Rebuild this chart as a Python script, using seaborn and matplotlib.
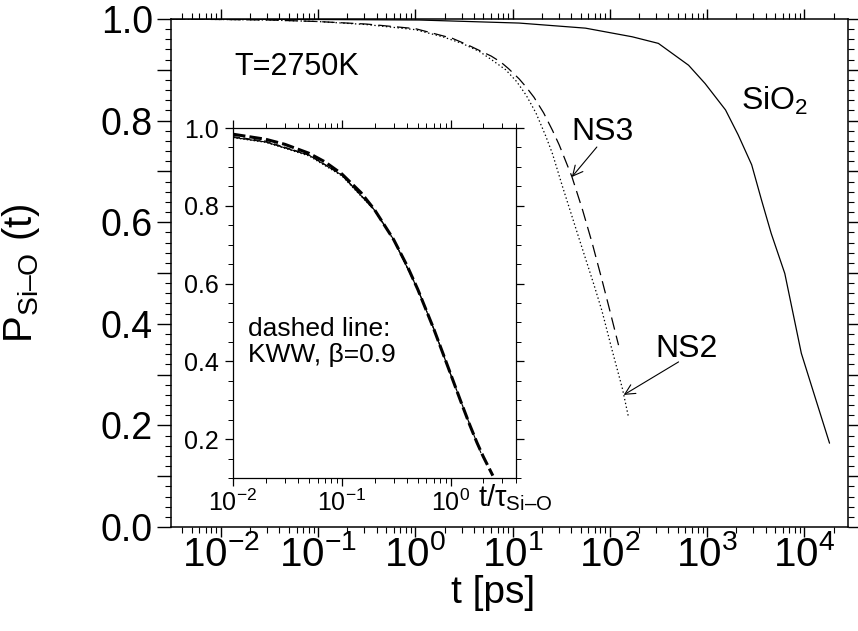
import numpy as np
import pandas as pd
import matplotlib
matplotlib.use("Agg")
import matplotlib.pyplot as plt
from matplotlib.ticker import LogLocator, NullFormatter, MultipleLocator, LogFormatterSciNotation
import seaborn as sns

# ---------------- data ----------------
# main panel: t [ps] vs P_Si-O(t)
t_sio2 = [0.00316, 0.1, 1.10, 11.7, 56.2, 170, 316, 646, 955, 1550, 2090, 2880,
          3630, 4570, 6310, 9330, 12900, 18200]
p_sio2 = [1.000, 0.999, 0.998, 0.992, 0.982, 0.965, 0.952, 0.909, 0.873, 0.821,
          0.772, 0.713, 0.644, 0.578, 0.499, 0.342, 0.256, 0.165]

t_ns3 = [0.00316, 0.01, 0.0316, 0.1, 0.316, 1.0, 2.40, 3.55, 6.03, 7.59, 9.12,
         11.7, 13.8, 16.6, 20.9, 25.7, 30.2, 40.7, 52.5, 66.1, 83.2, 97.7, 123]
p_ns3 = [1.000, 0.999, 0.998, 0.995, 0.990, 0.981, 0.962, 0.948, 0.927, 0.915,
         0.902, 0.882, 0.866, 0.846, 0.815, 0.781, 0.752, 0.690, 0.624, 0.558,
         0.486, 0.434, 0.358]

t_ns2 = [0.00316, 0.01, 0.0316, 0.1, 0.316, 1.0, 1.38, 1.91, 3.02, 4.57, 6.17,
         8.51, 11.0, 13.8, 17.4, 21.9, 25.7, 32.4, 47.9, 69.2, 83.2, 105, 135, 155]
p_ns2 = [1.000, 0.999, 0.998, 0.995, 0.989, 0.979, 0.972, 0.965, 0.952, 0.936,
         0.919, 0.900, 0.877, 0.850, 0.815, 0.770, 0.735, 0.672, 0.570, 0.475,
         0.425, 0.350, 0.272, 0.218]

# inset: scaled time t/tau vs P
x_kww = [0.01, 0.02, 0.03, 0.05, 0.07, 0.1, 0.15, 0.2, 0.3, 0.4, 0.5, 0.7, 0.85,
         1.0, 1.25, 1.5, 1.75, 2.0, 2.45]
p_kww = [0.984, 0.971, 0.958, 0.935, 0.913, 0.882, 0.834, 0.790, 0.713, 0.645,
         0.585, 0.484, 0.421, 0.368, 0.295, 0.237, 0.191, 0.155, 0.106]

x_in_sio2 = [0.01, 0.02, 0.05, 0.1, 0.2, 0.3, 0.5, 0.7, 1.0, 1.5, 1.9]
p_in_sio2 = [0.976, 0.964, 0.930, 0.879, 0.789, 0.713, 0.585, 0.484, 0.367, 0.238, 0.165]
x_in_ns3 = [0.01, 0.02, 0.05, 0.1, 0.2, 0.3, 0.5, 0.7, 1.03]
p_in_ns3 = [0.978, 0.966, 0.931, 0.880, 0.790, 0.713, 0.586, 0.485, 0.358]
x_in_ns2 = [0.01, 0.02, 0.05, 0.1, 0.2, 0.3, 0.5, 0.7, 1.0, 1.6]
p_in_ns2 = [0.975, 0.963, 0.928, 0.877, 0.788, 0.712, 0.585, 0.484, 0.367, 0.218]

x_ticks_main = [1e-2, 1e-1, 1e0, 1e1, 1e2, 1e3, 1e4]
y_ticks_main = [0.0, 0.1, 0.2, 0.3, 0.4, 0.5, 0.6, 0.7, 0.8, 0.9, 1.0]
y_labels_main = ["0.0", "", "0.2", "", "0.4", "", "0.6", "", "0.8", "", "1.0"]
x_ticks_in = [1e-2, 1e-1, 1e0]
y_ticks_in = [0.2, 0.4, 0.6, 0.8, 1.0]
y_labels_in = ["0.2", "0.4", "0.6", "0.8", "1.0"]

# ---------------- style ----------------
sns.set_theme(style="ticks", rc={
    "axes.edgecolor": "black", "xtick.color": "black", "ytick.color": "black",
    "text.color": "black", "axes.labelcolor": "black", "lines.scale_dashes": False,
})
plt.rcParams["font.family"] = ["Liberation Sans", "DejaVu Sans"]
plt.rcParams["mathtext.fontset"] = "custom"
plt.rcParams["mathtext.rm"] = "Liberation Sans"
plt.rcParams["mathtext.it"] = "Liberation Sans:italic"
plt.rcParams["mathtext.bf"] = "Liberation Sans:bold"
plt.rcParams["mathtext.sf"] = "Liberation Sans"

fig = plt.figure(figsize=(8.58, 6.31), dpi=100)
ax = fig.add_axes([171 / 858, 104 / 631, 677 / 858, 508 / 631])

df_main = {
    "SiO2": pd.DataFrame({"t": t_sio2, "P": p_sio2}),
    "NS3": pd.DataFrame({"t": t_ns3, "P": p_ns3}),
    "NS2": pd.DataFrame({"t": t_ns2, "P": p_ns2}),
}
styles_main = {"SiO2": "-", "NS3": (0, (9, 4.5)), "NS2": (0, (1.0, 1.8))}
for name, d in df_main.items():
    sns.lineplot(data=d, x="t", y="P", ax=ax, color="black", lw=0.9,
                 linestyle=styles_main[name], errorbar=None, sort=False)

ax.set_xscale("log")
ax.set_xlim(10 ** -2.513, 10 ** 4.45)
ax.set_ylim(0, 1.0)
ax.set_xticks(x_ticks_main)
ax.xaxis.set_major_formatter(LogFormatterSciNotation())
ax.xaxis.set_minor_locator(LogLocator(base=10, subs=np.arange(2, 10), numticks=30))
ax.xaxis.set_minor_formatter(NullFormatter())
ax.set_yticks(y_ticks_main, y_labels_main)
ax.yaxis.set_minor_locator(MultipleLocator(0.02))
for s in ax.spines.values():
    s.set_linewidth(1.1)
ax.tick_params(which="both", top=True, right=True, direction="out")
ax.tick_params(axis="y", which="major", length=10, width=1, labelsize=27, pad=3)
ax.tick_params(axis="y", which="minor", length=4.5, width=0.8)
ax.tick_params(axis="x", which="major", length=7, width=1, labelsize=29, pad=-1)
ax.tick_params(axis="x", which="minor", length=4, width=0.8)

ax.set_xlabel("t [ps]", fontsize=28)
ax.xaxis.set_label_coords(0.476, -0.095)
ax.set_ylabel(r"P$_{\mathrm{Si–O}}$ (t)", fontsize=29)
ax.yaxis.set_label_coords(-0.19, 0.5)

ax.text(0.0139, 0.89, "T=2750K", fontsize=22)
ax.text(40.7, 0.762, "NS3", fontsize=23)
ax.text(2260, 0.821, "SiO$_2$", fontsize=23)
ax.text(296, 0.335, "NS2", fontsize=23)
arrow = dict(arrowstyle="->", lw=0.8, color="black", mutation_scale=18,
             shrinkA=0, shrinkB=0)
ax.annotate("", xy=(40.7, 0.689), xytext=(73.6, 0.748), arrowprops=arrow)
ax.annotate("", xy=(139, 0.260), xytext=(510, 0.325), arrowprops=arrow)

# ---------------- inset ----------------
ax_in = fig.add_axes([233 / 858, 153 / 631, 283 / 858, 350 / 631])
ax_in.set_facecolor("white")
df_in = [
    (pd.DataFrame({"x": x_in_sio2, "P": p_in_sio2}), "-", 0.8),
    (pd.DataFrame({"x": x_in_ns3, "P": p_in_ns3}), (0, (5, 2.5)), 0.8),
    (pd.DataFrame({"x": x_in_ns2, "P": p_in_ns2}), (0, (1.0, 1.5)), 0.8),
    (pd.DataFrame({"x": x_kww, "P": p_kww}), (0, (9, 3)), 2.2),
]
for d, ls, lw in df_in:
    sns.lineplot(data=d, x="x", y="P", ax=ax_in, color="black", lw=lw,
                 linestyle=ls, errorbar=None, sort=False)
ax_in.set_xscale("log")
ax_in.set_xlim(0.01, 4.0)
ax_in.set_ylim(0.1, 1.0)
ax_in.set_xticks(x_ticks_in)
ax_in.xaxis.set_major_formatter(LogFormatterSciNotation())
ax_in.xaxis.set_minor_locator(LogLocator(base=10, subs=np.arange(2, 10), numticks=10))
ax_in.xaxis.set_minor_formatter(NullFormatter())
ax_in.set_yticks(y_ticks_in, y_labels_in)
ax_in.yaxis.set_minor_locator(MultipleLocator(0.05))
for s in ax_in.spines.values():
    s.set_linewidth(0.9)
ax_in.tick_params(which="both", top=True, right=True, direction="out")
ax_in.tick_params(which="major", length=6, width=0.9, labelsize=18, pad=2)
ax_in.tick_params(axis="y", which="major", pad=4)
ax_in.tick_params(which="minor", length=3.5, width=0.7)
ax_in.set_xlabel("")
ax_in.set_ylabel("")
ax_in.text(0.866, -0.08, "t/τ$_{\\mathrm{Si–O}}$", fontsize=21,
           transform=ax_in.transAxes)
ax_in.text(0.0137, 0.515, "dashed line:\nKWW, β=0.9", fontsize=19, va="top",
           linespacing=1.1)

fig.savefig("out.png", dpi=100)
